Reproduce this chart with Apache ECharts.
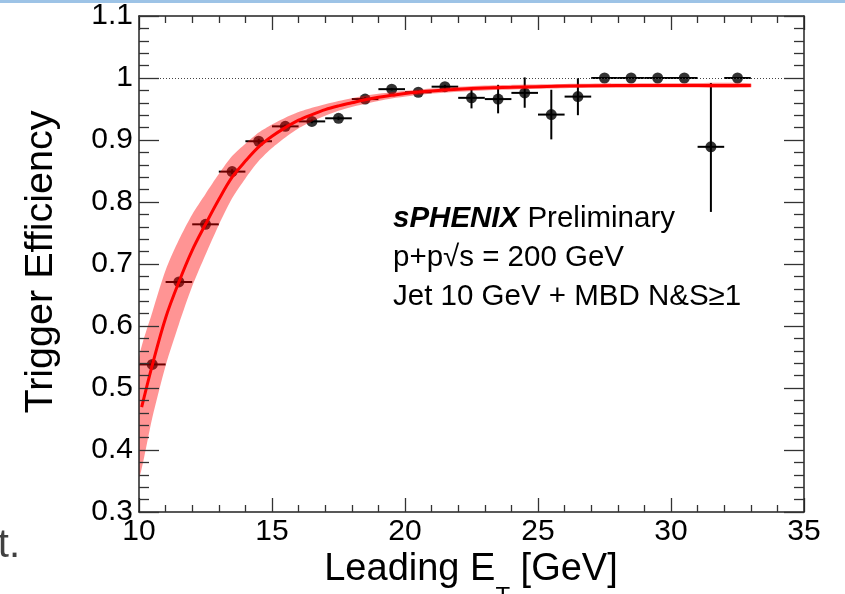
<!DOCTYPE html>
<html><head><meta charset="utf-8">
<script src="https://cdn.jsdelivr.net/npm/echarts@6/dist/echarts.min.js"></script>
<style>html,body{margin:0;padding:0;background:#fff}#c{width:845px;height:594px}</style>
</head><body><div id="c"></div>
<script>
// ---- data ----
const binCenters = [10.5,11.5,12.5,13.5,14.5,15.5,16.5,17.5,18.5,19.5,20.5,21.5,22.5,23.5,24.5,25.5,26.5,27.5,28.5,29.5,30.5,31.5,32.5];
const efficiency = [0.538,0.671,0.764,0.849,0.898,0.922,0.930,0.935,0.966,0.982,0.977,0.986,0.968,0.966,0.976,0.941,0.970,1.0,1.0,1.0,1.0,0.889,1.0];
const errDown    = [0.006,0.006,0.005,0.004,0.004,0.003,0.003,0.003,0.003,0.002,0.003,0.003,0.017,0.023,0.024,0.040,0.030,0,0,0,0,0.105,0];
const errUp      = [0.006,0.006,0.005,0.004,0.004,0.003,0.003,0.003,0.003,0.002,0.003,0.003,0.017,0.023,0.025,0.040,0.030,0,0,0,0,0.103,0];
const binHalfWidth = [0.5,0.5,0.5,0.5,0.5,0.5,0.5,0.5,0.5,0.5,0.5,0.5,0.5,0.5,0.5,0.5,0.5,0.5,0.5,0.5,0.5,0.5,0.5];

const fitX = [10.1,10.5,11,11.5,12,12.5,13,13.5,14,14.5,15,15.5,16,16.5,17,17.5,18,18.5,19,19.5,20,21,22,23,24,26,28,30,33];
const fitY = [0.469,0.537,0.613,0.671,0.722,0.764,0.804,0.840,0.866,0.889,0.906,0.920,0.932,0.941,0.949,0.955,0.960,0.965,0.969,0.972,0.975,0.979,0.982,0.984,0.985,0.987,0.988,0.988,0.988];

const bandX    = [10.0,10.5,11,11.5,12,12.5,13,13.5,14,14.5,15,15.5,16,16.5,17.5,18.5,19.5,21,23,26,30,33];
const bandLow  = [0.357,0.452,0.536,0.603,0.664,0.715,0.763,0.806,0.838,0.866,0.887,0.904,0.919,0.930,0.947,0.9585,0.967,0.975,0.980,0.9835,0.9845,0.9845];
const bandHigh = [0.545,0.622,0.690,0.739,0.780,0.813,0.845,0.874,0.894,0.912,0.925,0.936,0.945,0.952,0.963,0.9715,0.977,0.983,0.988,0.9905,0.9915,0.9915];

const xTitle = ['Leading E', 'T', ' [GeV]'];
const yTitle = 'Trigger Efficiency';
const infoLines = ['sPHENIX', ' Preliminary', 'p+p\u221As = 200 GeV', 'Jet 10 GeV + MBD N&S\u22651'];

// ---- chart ----
const FONT = '"Liberation Sans", Arial, Helvetica, sans-serif';
const chart = echarts.init(document.getElementById('c'), null, {renderer: 'canvas'});

const pointData = binCenters.map((x, i) => [x, efficiency[i], errDown[i], errUp[i], binHalfWidth[i]]);
const bandData = bandX.map((x, i) => [x, bandLow[i], bandHigh[i]]);
const fitData = fitX.map((x, i) => [x, fitY[i]]);

function renderErr(params, api) {
  const x = api.value(0), y = api.value(1), lo = api.value(2), hi = api.value(3), hw = api.value(4);
  const pL = api.coord([x - hw, y]), pR = api.coord([x + hw, y]);
  const style = {stroke: '#000', lineWidth: 2};
  const children = [{type: 'line', shape: {x1: pL[0], y1: pL[1], x2: pR[0], y2: pR[1]}, style: style}];
  if (lo > 0 || hi > 0) {
    const pB = api.coord([x, y - lo]), pT = api.coord([x, y + hi]);
    children.push({type: 'line', shape: {x1: pB[0], y1: pB[1], x2: pT[0], y2: pT[1]}, style: style});
  }
  return {type: 'group', children: children};
}

function renderBand(params, api) {
  if (params.dataIndex !== 0) return null;
  const up = bandX.map((x, i) => api.coord([x, bandHigh[i]]));
  const dn = bandX.map((x, i) => api.coord([x, bandLow[i]])).reverse();
  const c0 = api.coord([10, 1.1]), c1 = api.coord([35, 0.3]);
  return {
    type: 'polygon',
    shape: {points: up.concat(dn), smooth: 0.25, smoothConstraint: [[c0[0], c0[1]], [c1[0], c1[1]]]},
    style: {fill: 'rgba(255,0,0,0.42)'}
  };
}

const axisLineStyle = {color: '#222', width: 1.5};
const tickStyle = {color: '#333', width: 1.3};
function xAxisDef(pos, showLabel) {
  return {
    type: 'value', position: pos, min: 10, max: 35, interval: 5,
    axisLine: {show: true, onZero: false, lineStyle: axisLineStyle},
    axisTick: {show: true, inside: true, length: 14, lineStyle: tickStyle},
    minorTick: {show: true, splitNumber: 5, length: 7, lineStyle: tickStyle},
    splitLine: {show: false}, minorSplitLine: {show: false},
    axisLabel: {show: showLabel, margin: 5, fontSize: 30, fontFamily: FONT, color: '#000', showMinLabel: true, showMaxLabel: true}
  };
}
function yAxisDef(pos, showLabel) {
  return {
    type: 'value', position: pos, min: 0.3, max: 1.1, interval: 0.1,
    axisLine: {show: true, onZero: false, lineStyle: axisLineStyle},
    axisTick: {show: true, inside: true, length: 20, lineStyle: tickStyle},
    minorTick: {show: true, splitNumber: 5, length: 10, lineStyle: tickStyle},
    splitLine: {show: false}, minorSplitLine: {show: false},
    axisLabel: {show: showLabel, margin: 6, fontSize: 30, fontFamily: FONT, color: '#000', showMinLabel: true, showMaxLabel: true,
      formatter: v => String(Math.round(v * 10) / 10)},
    z: 10
  };
}

const option = {
  animation: false,
  backgroundColor: '#fff',
  grid: {left: 139, right: 41, top: 16, bottom: 82, containLabel: false, outerBoundsMode: 'none'},
  xAxis: [xAxisDef('bottom', true), xAxisDef('top', false)],
  yAxis: [yAxisDef('left', true), yAxisDef('right', false)],
  series: [
    {
      type: 'custom', name: 'errors', renderItem: renderErr, data: pointData,
      encode: {x: 0, y: 1}, z: 2, silent: true,
      markLine: {
        silent: true, symbol: ['none', 'none'], label: {show: false},
        lineStyle: {type: [1, 2], color: '#444', width: 1},
        data: [{yAxis: 1}]
      }
    },
    {
      type: 'scatter', name: 'efficiency', data: pointData.map(d => [d[0], d[1]]),
      symbol: 'circle', symbolSize: 11, itemStyle: {color: '#000'}, z: 3, silent: true
    },
    {
      type: 'custom', name: 'band', renderItem: renderBand, data: bandData,
      encode: {x: 0, y: [1, 2]}, z: 4, clip: true, silent: true
    },
    {
      type: 'line', name: 'fit', data: fitData, smooth: 0.35, symbol: 'none',
      lineStyle: {color: '#ff0000', width: 3}, z: 5, silent: true
    }
  ],
  graphic: [
    {type: 'rect', left: 0, top: 0, shape: {x: 0, y: 0, width: 845, height: 3}, style: {fill: '#9dc3e6'}, silent: true},
    {type: 'text', x: 20, y: 566, style: {text: 't.', font: '40px ' + FONT, fill: '#404040', textAlign: 'right', textVerticalAlign: 'bottom'}, silent: true},
    {type: 'text', x: 41, y: 262, rotation: Math.PI / 2,
      style: {text: yTitle, font: '39.5px ' + FONT, fill: '#000', textAlign: 'center', textVerticalAlign: 'middle'}, silent: true},
    {type: 'text', x: 471, y: 551,
      style: {
        text: '{a|' + xTitle[0] + '}{t|' + xTitle[1] + '}{a|' + xTitle[2] + '}',
        textAlign: 'center', textVerticalAlign: 'top',
        rich: {
          a: {fontSize: 38, lineHeight: 38, fontFamily: FONT, fill: '#000', verticalAlign: 'top'},
          t: {fontSize: 24, lineHeight: 24, fontFamily: FONT, fill: '#000', verticalAlign: 'top', padding: [34, 0, 0, 0]}
        }
      }, silent: true},
    {type: 'text', x: 393, y: 219,
      style: {
        text: '{b|' + infoLines[0] + '}{n|' + infoLines[1] + '}',
        textAlign: 'left', textVerticalAlign: 'middle',
        rich: {
          b: {fontSize: 29.5, fontFamily: FONT, fontWeight: 'bold', fontStyle: 'italic', fill: '#000'},
          n: {fontSize: 29.5, fontFamily: FONT, fill: '#000'}
        }
      }, silent: true},
    {type: 'text', x: 393, y: 258,
      style: {text: infoLines[2], font: '29.5px ' + FONT, fill: '#000', textAlign: 'left', textVerticalAlign: 'middle'}, silent: true},
    {type: 'text', x: 393, y: 297,
      style: {text: infoLines[3], font: '29.5px ' + FONT, fill: '#000', textAlign: 'left', textVerticalAlign: 'middle'}, silent: true}
  ]
};
chart.setOption(option);
</script>
</body></html>
